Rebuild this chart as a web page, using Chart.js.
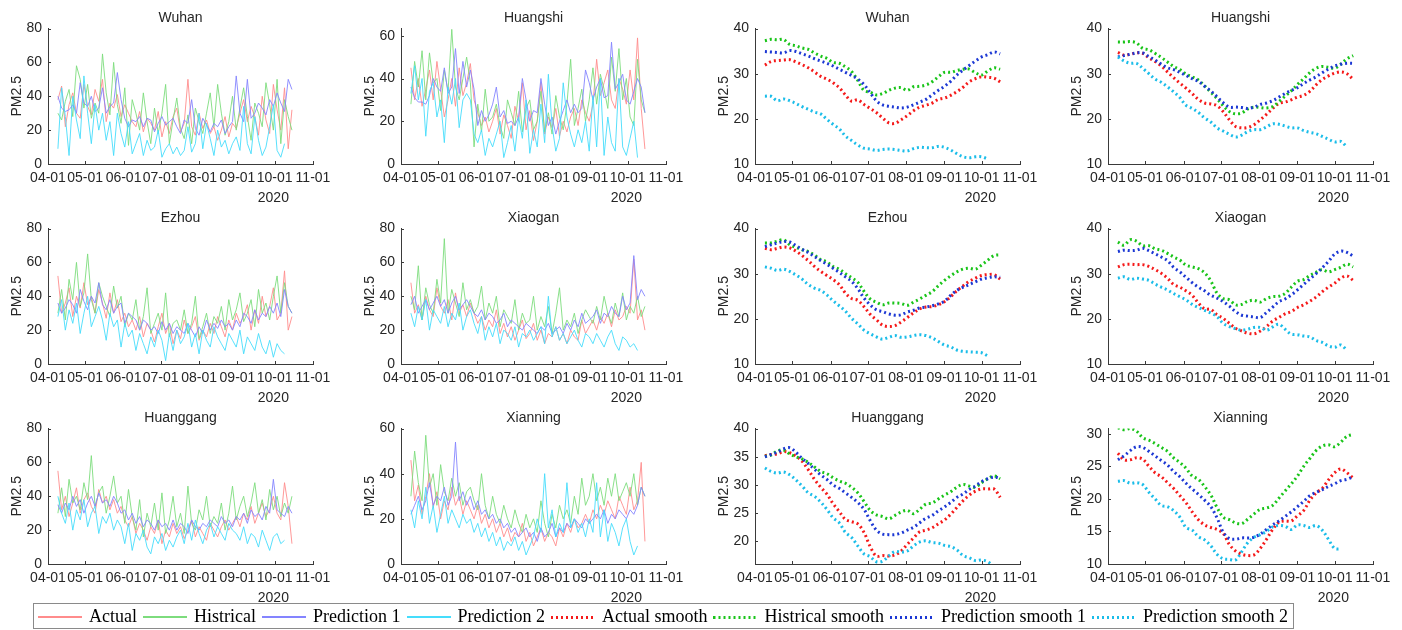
<!DOCTYPE html>
<html>
<head>
<meta charset="utf-8">
<script src="https://cdn.jsdelivr.net/npm/chart.js@4.4.1/dist/chart.umd.min.js"></script>
<style>
  body { margin: 0; background: #fff; width: 1402px; height: 630px; position: relative; overflow: hidden; }
  canvas { position: absolute; }
  #legendBox { position: absolute; left: 33px; top: 603px; width: 1261px; height: 26px; border: 1px solid #8a8a8a; box-sizing: border-box; }
</style>
</head>
<body>
<div id="legendBox"></div>
<script>
// x axis: days after 04-01 (2020)
const monthTicks = [0, 30, 61, 91, 122, 153, 183, 214];
const monthLabels = ["04-01", "05-01", "06-01", "07-01", "08-01", "09-01", "10-01", "11-01"];
const yearText = "2020";
const dailyStart = 8, dailyStep = 3;
const smoothStart = 8, smoothStep = 5;

const cities = ["Wuhan", "Huangshi", "Ezhou", "Xiaogan", "Huanggang", "Xianning"];
const seriesNames = ["Actual", "Histrical", "Prediction 1", "Prediction 2",
  "Actual smooth", "Histrical smooth", "Prediction smooth 1", "Prediction smooth 2"];

// ---- daily series (every 3rd day) ----
const wuhanActual = [38,46,22,35,42,30,27,47,34,29,44,37,50,25,36,33,
  41,28,35,30,25,22,31,19,27,24,20,31,16,25,18,28,
  33,19,24,50,22,17,30,21,26,18,22,14,20,28,16,24,
  21,30,38,25,34,28,17,40,26,18,47,32,20,45,9,32];
const wuhanHistrical = [30,26,37,44,28,58,50,33,47,27,36,30,65,42,29,60,
  35,24,45,11,38,30,20,42,25,12,33,18,30,47,12,26,
  39,21,15,29,12,33,25,18,30,42,22,47,30,17,25,40,
  20,33,45,28,14,36,30,22,48,35,20,50,12,38,28,20];
const wuhanPred1 = [40,33,31,32,35,30,48,36,34,40,31,33,45,30,34,36,
  54,38,27,22,26,25,28,22,27,26,19,24,28,23,25,27,
  22,18,26,24,38,21,17,27,23,19,24,22,26,18,22,25,
  52,30,25,50,27,30,36,33,29,38,34,42,36,31,50,44];
const wuhanPred2 = [9,45,28,5,40,26,15,52,30,12,35,20,30,14,25,5,
  30,18,10,25,6,12,18,5,14,8,10,20,4,9,12,6,
  10,5,8,22,7,12,30,9,24,15,5,20,10,14,6,12,
  16,8,34,12,6,28,14,5,10,22,35,8,4,12];

const huangshiActual = [45,30,40,27,35,44,30,48,35,22,30,40,27,45,32,38,
  47,30,24,18,22,15,20,26,14,23,18,12,27,20,38,16,
  25,11,20,38,14,22,17,26,13,20,15,22,26,18,30,24,
  20,28,49,32,38,44,30,26,40,35,28,44,30,59,26,7];
const huangshiHistrical = [28,48,36,53,30,52,38,40,25,44,34,63,36,30,40,50,
  38,8,28,15,35,20,22,28,18,12,30,24,18,34,15,26,
  30,16,20,34,15,24,14,32,22,16,28,49,18,26,35,20,
  30,45,28,42,35,26,50,34,54,30,40,22,18,49,30,24];
const huangshiPred1 = [36,31,29,29,28,32,40,36,34,45,33,36,54,33,48,36,
  44,35,18,25,20,23,28,36,22,25,19,20,18,22,40,30,
  20,25,24,40,28,18,22,14,20,25,30,24,28,24,26,44,
  38,30,36,40,31,32,57,35,38,42,30,28,34,40,36,24];
const huangshiPred2 = [33,46,30,40,13,34,38,22,30,10,36,28,40,17,30,33,
  30,14,10,16,4,12,8,14,20,3,10,18,6,22,12,30,
  5,16,8,28,10,42,18,6,12,38,22,14,8,16,10,20,
  6,32,8,40,4,22,10,6,40,8,4,12,20,3];

const ezhouActual = [52,30,36,45,28,40,33,48,35,40,30,44,36,27,42,30,
  38,25,30,22,26,20,28,16,24,20,13,22,30,18,24,12,
  20,15,26,18,22,28,14,20,16,24,18,28,22,16,26,20,
  30,24,28,35,20,32,24,40,28,34,45,26,30,55,20,28];
const ezhouHistrical = [30,44,26,50,38,60,34,42,65,38,30,48,40,34,28,46,
  33,40,22,30,26,38,20,28,45,18,24,30,20,42,16,24,
  26,20,32,18,24,40,15,22,30,18,28,24,34,20,38,26,
  32,42,25,30,38,22,44,30,36,26,40,52,30,48,34,30];
const ezhouPred1 = [36,30,33,38,35,30,44,37,32,40,36,48,35,32,38,30,
  34,36,24,30,28,26,20,26,24,20,22,18,25,20,24,18,
  22,20,18,24,20,16,22,18,26,20,24,21,26,22,24,20,
  26,22,30,28,24,32,26,30,28,34,30,36,28,44,34,30];
const ezhouPred2 = [28,38,20,32,24,36,18,30,40,22,28,34,26,14,30,22,
  26,10,24,16,20,8,18,12,6,16,10,20,14,2,18,8,
  20,12,16,24,10,18,6,20,14,10,22,16,12,8,18,14,
  10,20,6,16,12,8,18,10,6,14,4,12,8,6];

const xiaoganActual = [48,30,35,26,40,32,28,45,34,30,38,26,42,30,35,28,
  36,30,24,28,20,26,22,32,18,24,16,22,14,20,26,15,
  18,24,14,20,12,18,16,22,14,18,12,20,16,14,26,18,
  22,26,20,28,24,30,22,32,26,28,34,30,62,26,32,20];
const xiaoganHistrical = [40,32,58,26,45,35,30,50,36,74,30,44,36,28,48,32,
  38,30,34,46,26,36,30,40,22,32,28,24,38,20,30,24,
  26,40,20,28,22,34,18,30,45,20,26,22,30,18,26,32,
  28,24,34,26,40,30,24,36,28,42,26,34,30,40,28,34];
const xiaoganPred1 = [35,40,30,34,38,32,36,40,34,38,30,36,40,32,35,38,
  34,30,28,32,26,30,28,24,26,30,22,26,24,22,20,24,
  22,20,18,22,20,24,18,20,22,18,24,20,26,22,30,24,
  26,28,32,24,30,28,34,30,28,40,32,36,64,38,44,40];
const xiaoganPred2 = [30,22,34,26,38,20,32,28,24,34,22,30,26,36,20,28,
  32,24,18,28,14,22,16,24,12,20,18,14,22,10,18,16,
  20,14,18,22,12,40,16,22,14,18,12,16,20,14,10,18,
  16,12,18,14,10,16,20,12,8,16,14,10,12,8];

const huanggangActual = [55,32,40,28,36,45,30,38,42,34,30,44,36,40,32,38,
  30,34,26,22,28,18,24,20,14,22,18,26,12,20,16,24,
  18,22,15,20,26,16,22,18,14,24,20,16,22,26,20,24,
  28,22,30,26,34,24,30,36,28,32,40,30,26,48,34,12];
const huanggangHistrical = [30,45,28,50,36,40,32,48,38,64,34,42,46,30,40,52,
  36,40,24,44,28,20,38,16,30,22,36,20,42,18,26,40,
  22,30,18,46,24,20,32,26,40,22,28,24,36,20,30,46,
  26,34,40,28,36,48,30,38,26,44,32,40,28,36,30,40];
const huanggangPred1 = [35,30,36,32,40,34,38,30,36,40,34,42,36,38,34,40,
  36,30,32,26,30,24,28,22,26,24,20,26,22,24,20,26,
  20,24,22,18,26,22,20,24,22,26,24,22,28,24,26,22,
  28,26,30,24,32,28,30,26,34,30,50,32,30,28,34,30];
const huanggangPred2 = [40,30,24,36,20,32,26,38,22,30,34,18,28,24,30,20,
  26,22,12,24,8,18,14,20,10,6,16,12,18,8,14,10,
  16,20,12,24,14,26,18,12,20,24,16,22,18,14,24,20,
  18,14,22,12,18,16,10,20,14,8,16,18,12,14];

const xianningActual = [46,28,35,22,30,40,25,32,20,28,24,34,26,30,22,28,
  24,20,26,18,22,16,20,14,18,12,16,10,14,12,18,10,
  14,8,12,16,10,14,12,8,16,12,18,14,20,16,18,22,
  18,24,20,26,22,28,24,20,30,26,22,34,24,28,45,10];
const xianningHistrical = [30,50,36,28,57,34,40,26,44,32,28,38,30,36,26,32,
  34,28,24,40,26,20,30,22,18,26,20,16,24,18,14,22,
  16,20,14,28,18,12,22,16,26,20,24,18,30,22,38,26,
  30,40,28,34,26,38,30,40,28,32,36,30,40,26,34,30];
const xianningPred1 = [22,26,30,24,28,36,26,30,28,34,26,30,54,28,32,26,
  30,24,28,22,24,20,22,18,20,16,18,14,16,12,14,16,
  12,14,10,16,12,14,18,12,16,14,18,16,20,18,16,20,
  18,20,22,20,24,18,22,20,24,22,20,24,22,26,34,30];
const xianningPred2 = [24,16,28,20,34,18,26,14,22,30,18,24,20,16,22,18,
  20,14,18,12,16,10,14,8,12,6,10,8,12,6,10,4,
  8,12,20,14,40,16,24,12,18,14,36,16,20,14,18,12,
  20,14,36,12,24,10,18,14,8,16,20,10,4,8];

// ---- smoothed series (every 5th day) ----
const wuhanActualSmooth = [31.9,32.7,32.9,33.0,33.1,32.6,32.0,31.3,30.4,29.4,28.8,28.0,26.9,25.3,23.9,24.2,23.2,22.3,21.4,20.2,19.1,19.0,19.8,20.7,21.8,22.6,23.0,23.5,24.3,24.6,25.2,26.0,27.0,28.2,28.9,29.3,29.2,29.0,28.2];
const wuhanHistSmooth = [37.3,37.6,37.5,37.6,36.5,36.2,35.7,35.4,34.6,33.9,33.4,32.5,32.3,31.5,30.5,28.5,26.3,25.9,25.3,25.6,26.3,26.8,26.9,26.3,27.1,27.2,27.5,28.2,29.3,30.3,30.3,30.7,31.0,31.0,30.2,29.7,30.6,31.3,31.0];
const wuhanPred1Smooth = [34.9,34.8,34.7,34.6,35.1,34.9,34.4,33.9,33.3,32.8,32.3,31.7,31.0,30.3,29.6,28.8,27.6,25.8,24.0,23.1,22.8,22.6,22.4,22.6,23.1,23.7,24.3,25.3,26.3,27.2,28.3,29.7,30.8,31.8,32.8,33.7,34.2,34.8,34.4];
const wuhanPred2Smooth = [25.0,25.0,24.0,24.4,24.0,23.4,22.7,22.1,21.5,21.1,19.9,18.8,17.8,16.2,15.2,14.2,13.5,13.3,13.0,13.2,13.3,13.2,13.0,12.9,13.4,13.7,13.6,13.6,13.9,13.7,13.1,12.3,11.6,11.4,11.6,11.6,11.1];

const huangshiActualSmooth = [34.7,34.1,34.3,34.6,34.5,33.5,32.7,31.7,30.4,29.1,27.9,26.8,25.6,24.3,23.5,23.3,22.9,21.6,19.8,18.3,18.0,18.1,18.7,19.8,21.0,22.3,23.4,23.7,24.2,24.8,25.2,26.1,27.5,28.7,29.5,30.1,30.4,30.0,28.7];
const huangshiHistSmooth = [37.0,37.0,37.1,36.8,35.6,35.3,34.5,33.6,32.6,31.6,30.9,29.9,29.3,28.6,27.3,25.9,24.5,22.9,21.6,21.1,21.3,22.2,22.6,22.5,22.4,22.7,23.8,25.0,26.2,27.6,28.9,30.2,31.2,31.6,31.4,31.2,32.1,33.3,34.0];
const huangshiPred1Smooth = [33.7,34.0,34.3,34.6,34.6,33.8,33.0,32.1,31.3,30.9,30.3,29.6,28.9,28.3,27.2,26.2,24.9,23.6,22.6,22.6,22.5,22.3,22.6,23.2,23.5,24.0,24.8,25.6,26.3,26.9,27.8,28.6,29.3,30.2,31.0,31.7,32.1,32.3,32.3];
const huangshiPred2Smooth = [33.7,32.8,32.3,32.3,31.2,30.0,28.8,28.1,27.1,26.0,24.7,23.0,22.3,21.4,20.2,19.3,18.0,17.3,16.6,16.0,16.4,17.2,17.6,17.6,18.2,18.9,18.8,18.4,18.0,18.0,17.4,17.0,16.7,16.1,15.5,14.9,15.0,13.7];

const ezhouActualSmooth = [35.6,35.3,35.6,35.9,35.7,35.0,34.0,32.9,31.6,30.5,29.6,28.7,27.6,25.7,24.5,24.1,22.7,21.0,19.8,18.6,18.3,18.5,19.3,20.3,21.3,22.2,22.6,22.7,23.1,23.8,24.9,26.2,27.3,28.3,29.0,29.6,29.8,29.8,28.8];
const ezhouHistSmooth = [36.8,36.8,37.2,37.5,36.4,35.8,35.3,34.9,34.1,33.1,32.6,31.6,31.0,30.0,29.1,28.1,26.1,24.4,23.7,23.1,23.5,23.5,23.4,23.0,23.7,24.4,25.2,26.0,27.3,28.5,29.5,30.4,31.0,31.2,31.0,31.9,33.0,34.0,34.2];
const ezhouPred1Smooth = [36.0,36.4,36.8,37.1,37.0,36.2,35.4,34.7,33.8,32.9,32.1,31.2,30.3,29.3,28.3,26.7,24.6,23.1,22.0,21.6,21.1,20.8,20.9,21.5,21.9,22.4,22.6,22.9,23.3,23.9,25.2,26.3,27.0,27.6,28.2,28.8,29.1,29.3,29.2];
const ezhouPred2Smooth = [31.5,31.2,30.7,31.0,30.5,29.7,28.8,27.6,26.8,26.3,25.3,24.0,22.9,21.7,20.1,18.9,17.5,16.7,16.0,15.5,15.9,16.3,15.9,16.0,16.3,16.5,16.3,15.8,15.0,14.2,13.8,13.1,12.8,12.7,12.6,12.5,11.8];

const xiaoganActualSmooth = [31.5,32.0,32.1,32.0,32.0,31.6,30.9,30.1,29.0,27.6,27.0,26.2,25.2,23.5,22.2,22.1,20.9,20.1,19.0,17.9,17.3,16.8,16.7,17.3,18.3,19.5,20.3,21.1,21.6,22.5,23.1,23.9,24.8,26.0,27.0,27.9,29.0,29.5,28.5];
const xiaoganHistSmooth = [37.0,36.3,37.5,37.2,36.2,36.2,35.5,35.2,34.5,33.7,33.0,31.9,31.5,31.1,30.2,28.4,25.7,24.5,24.2,23.1,23.2,23.9,24.1,23.7,24.5,24.9,25.0,25.6,27.0,28.3,28.7,29.6,30.3,30.9,30.4,30.9,31.4,32.1,31.5];
const xiaoganPred1Smooth = [34.9,35.2,35.1,35.2,35.6,35.1,34.4,33.7,32.9,31.4,30.4,29.2,28.0,27.0,26.2,25.2,24.6,23.8,22.8,21.6,20.8,20.6,20.4,20.3,21.4,22.6,23.8,24.4,25.3,26.4,27.6,28.8,30.0,31.3,32.7,34.3,35.0,34.7,33.9];
const xiaoganPred2Smooth = [29.0,29.3,28.7,29.0,28.8,28.5,27.7,27.0,26.4,25.6,24.9,24.2,23.2,22.5,21.9,21.3,20.5,19.0,18.3,17.8,17.5,17.7,18.1,18.1,17.5,18.2,18.8,17.7,16.6,16.5,16.2,16.0,15.2,14.8,14.0,13.7,14.2,13.0];

const huanggangActualSmooth = [35.2,35.4,35.5,35.9,35.7,35.1,34.2,32.7,31.0,29.6,28.4,26.7,25.3,23.9,23.5,23.1,21.6,19.1,17.4,17.5,17.4,17.6,18.3,19.5,20.6,21.7,22.0,22.4,23.1,23.8,24.8,26.0,27.2,28.2,28.9,29.3,29.3,29.3,27.8];
const huanggangHistSmooth = [35.1,35.3,36.0,36.2,35.5,35.0,34.6,34.0,33.2,32.4,32.0,31.3,30.7,30.3,29.6,28.6,27.1,25.5,24.7,24.4,24.0,24.6,25.2,25.5,24.9,25.7,26.6,26.8,27.5,28.2,28.8,29.6,30.1,29.8,29.6,30.4,31.1,31.6,31.1];
const huanggangPred1Smooth = [35.0,35.4,35.8,36.4,36.6,35.8,34.7,33.8,32.8,31.8,31.0,30.0,29.4,28.6,27.8,26.9,25.7,23.7,22.0,21.3,21.2,21.2,21.5,22.0,22.5,23.3,24.1,24.6,25.4,26.1,26.9,27.8,28.4,29.2,29.8,30.6,31.1,31.4,31.2];
const huanggangPred2Smooth = [33.0,32.4,32.1,32.3,31.8,30.9,29.8,28.6,28.0,27.0,25.7,24.2,23.3,21.6,20.7,19.2,17.8,17.3,16.4,16.5,17.4,18.2,18.1,18.3,19.2,19.9,20.1,19.8,19.7,19.3,19.1,18.5,17.5,17.1,16.6,16.7,16.4,15.5];

const xianningActualSmooth = [27.0,26.0,26.0,26.3,26.1,25.0,24.0,23.4,22.5,21.6,20.5,19.4,18.0,16.8,16.0,15.6,15.3,14.7,13.0,12.0,11.5,11.3,11.4,12.4,13.8,15.3,16.4,16.6,16.6,17.4,18.2,19.8,20.9,21.6,22.9,24.0,24.6,24.0,23.2];
const xianningHistSmooth = [30.9,30.6,30.8,30.4,29.4,29.0,28.5,27.9,27.3,26.3,25.6,24.7,23.5,23.0,21.9,20.6,18.7,17.2,16.8,16.3,16.2,16.9,17.7,18.4,18.6,19.0,20.1,21.2,22.3,23.5,25.0,26.2,27.4,28.1,28.3,28.0,28.7,29.6,29.9];
const xianningPred1Smooth = [26.0,26.6,27.4,28.0,27.9,27.3,26.6,25.9,25.2,24.2,23.4,22.4,21.5,20.7,19.8,18.8,17.1,14.9,13.9,13.8,14.0,14.0,14.1,14.6,15.3,16.0,16.6,17.3,18.0,18.8,19.6,20.5,21.0,21.4,21.9,22.3,22.8,23.0,23.4];
const xianningPred2Smooth = [22.7,22.8,22.4,22.5,22.2,21.0,20.0,19.0,18.8,18.2,17.2,15.6,15.2,14.2,13.7,12.8,11.5,10.8,10.7,10.6,11.9,13.3,14.1,14.5,15.0,15.7,15.9,15.8,15.3,16.0,15.9,15.6,15.9,15.2,13.8,12.4,12.3];

// axis ranges per city
const dailyMax = [80, 63.4, 80, 80, 80, 60];
const dailyTicks = [[0,20,40,60,80], [0,20,40,60], [0,20,40,60,80], [0,20,40,60,80], [0,20,40,60,80], [0,20,40,60]];
const smoothMin = [10, 10, 10, 10, 16, 10];
const smoothMax = [40, 40, 40, 40, 40, 30.8];
const smoothTicks = [[10,20,30,40], [10,20,30,40], [10,20,30,40], [10,20,30,40], [20,25,30,35,40], [10,15,20,25,30]];

const dailyData = [
  [wuhanActual, wuhanHistrical, wuhanPred1, wuhanPred2],
  [huangshiActual, huangshiHistrical, huangshiPred1, huangshiPred2],
  [ezhouActual, ezhouHistrical, ezhouPred1, ezhouPred2],
  [xiaoganActual, xiaoganHistrical, xiaoganPred1, xiaoganPred2],
  [huanggangActual, huanggangHistrical, huanggangPred1, huanggangPred2],
  [xianningActual, xianningHistrical, xianningPred1, xianningPred2]
];
const smoothData = [
  [wuhanActualSmooth, wuhanHistSmooth, wuhanPred1Smooth, wuhanPred2Smooth],
  [huangshiActualSmooth, huangshiHistSmooth, huangshiPred1Smooth, huangshiPred2Smooth],
  [ezhouActualSmooth, ezhouHistSmooth, ezhouPred1Smooth, ezhouPred2Smooth],
  [xiaoganActualSmooth, xiaoganHistSmooth, xiaoganPred1Smooth, xiaoganPred2Smooth],
  [huanggangActualSmooth, huanggangHistSmooth, huanggangPred1Smooth, huanggangPred2Smooth],
  [xianningActualSmooth, xianningHistSmooth, xianningPred1Smooth, xianningPred2Smooth]
];

// styles
const thinColors = ["#ff8c8c", "#7ddc7d", "#8484ff", "#45ddfc"];
const boldColors = ["#f51a1a", "#19c419", "#1c38d4", "#1bbde9"];
const dotDash = [2, 3];
const sans = "'Liberation Sans', Arial, sans-serif";
const serif = "'Liberation Serif', 'Times New Roman', serif";
const textColor = "#262626";
const axisColor = "#3a3a3a";

const colLeft = [48, 401, 755, 1108];
const rowTop = [28.5, 228.5, 428.5];
const yAxisW = 48, titleH = 28.5, xAxisH = 42, plotW = 265, plotH = 135.5;

// ticks pointing into the plot, like the original
const innerTicks = {
  id: "innerTicks",
  afterDraw(chart) {
    const { ctx, chartArea: a, scales: { x, y } } = chart;
    ctx.save();
    ctx.strokeStyle = axisColor;
    ctx.lineWidth = 1;
    ctx.beginPath();
    x.ticks.forEach(t => {
      const px = Math.round(x.getPixelForValue(t.value)) + 0.5;
      ctx.moveTo(px, a.bottom); ctx.lineTo(px, a.bottom - 3);
    });
    y.ticks.forEach(t => {
      const py = Math.round(y.getPixelForValue(t.value)) + 0.5;
      ctx.moveTo(a.left, py); ctx.lineTo(a.left + 3, py);
    });
    ctx.stroke();
    ctx.restore();
  }
};

// secondary "2020" label under the date ticks
const yearLabel = {
  id: "yearLabel",
  afterDraw(chart) {
    const { ctx, chartArea: a, scales: { x } } = chart;
    ctx.save();
    ctx.font = "14px " + sans;
    ctx.fillStyle = textColor;
    ctx.textAlign = "center";
    ctx.textBaseline = "middle";
    ctx.fillText(yearText, x.getPixelForValue(182), a.bottom + 34);
    ctx.restore();
  }
};

function points(values, start, step) {
  return values.map((v, i) => ({ x: start + i * step, y: v }));
}

function makePanel(col, row, title, datasets, yMin, yMax, yTicks) {
  const canvas = document.createElement("canvas");
  const w = yAxisW + plotW + yAxisW, h = titleH + plotH + xAxisH;
  canvas.width = w; canvas.height = h;
  canvas.style.left = (colLeft[col] - yAxisW) + "px";
  canvas.style.top = (rowTop[row] - titleH) + "px";
  canvas.style.width = w + "px"; canvas.style.height = h + "px";
  document.body.appendChild(canvas);

  const tickFont = { family: sans, size: 14 };
  return new Chart(canvas, {
    type: "line",
    data: { datasets },
    options: {
      responsive: false,
      animation: false,
      devicePixelRatio: 1,
      layout: { padding: 0 },
      plugins: {
        legend: { display: false },
        tooltip: { enabled: false },
        title: {
          display: true, text: title, color: textColor,
          font: { family: sans, size: 14, weight: "normal" },
          padding: { top: 9.6, bottom: 2.1 }
        }
      },
      scales: {
        x: {
          type: "linear", min: 0, max: 214,
          grid: { display: false, drawTicks: false },
          border: { display: true, color: axisColor, width: 1 },
          afterBuildTicks: s => { s.ticks = monthTicks.map(v => ({ value: v })); },
          afterFit: s => { s.height = xAxisH; },
          ticks: {
            color: textColor, font: tickFont, padding: 6,
            maxRotation: 0, minRotation: 0, autoSkip: false,
            callback: (v, i) => monthLabels[i]
          }
        },
        y: {
          type: "linear", position: "left", min: yMin, max: yMax,
          grid: { display: false, drawTicks: false },
          border: { display: true, color: axisColor, width: 1 },
          afterBuildTicks: s => { s.ticks = yTicks.map(v => ({ value: v })); },
          afterFit: s => { s.width = yAxisW; },
          ticks: { color: textColor, font: tickFont, padding: 6 },
          title: {
            display: true, text: "PM2.5", color: textColor,
            font: { family: sans, size: 14 }, padding: { top: 8.6, bottom: 0 }
          }
        },
        // empty right-hand spacer so the title centres over the axes
        yPad: {
          type: "linear", position: "right", display: true,
          grid: { display: false, drawTicks: false },
          border: { display: false },
          ticks: { display: false },
          afterFit: s => { s.width = yAxisW; }
        }
      }
    },
    plugins: [innerTicks, yearLabel]
  });
}

cities.forEach((city, k) => {
  const row = Math.floor(k / 2), c = k % 2;

  const daily = dailyData[k].map((vals, i) => ({
    label: seriesNames[i],
    data: points(vals, dailyStart, dailyStep),
    borderColor: thinColors[i],
    borderWidth: 0.9,
    pointRadius: 0,
    tension: 0,
    order: 4 - i
  }));
  makePanel(c, row, city, daily, 0, dailyMax[k], dailyTicks[k]);

  const smooth = smoothData[k].map((vals, i) => ({
    label: seriesNames[i + 4],
    data: points(vals, smoothStart, smoothStep),
    borderColor: boldColors[i],
    borderWidth: 3,
    borderDash: dotDash,
    pointRadius: 0,
    tension: 0.35,
    order: 4 - i
  }));
  makePanel(c + 2, row, city, smooth, smoothMin[k], smoothMax[k], smoothTicks[k]);
});

// legend line samples (solid for daily, dotted for smooth), pixel-aligned
function lineSample(color, dotted) {
  const s = document.createElement("canvas");
  s.width = 44; s.height = 4;
  const g = s.getContext("2d");
  g.fillStyle = color;
  if (dotted) {
    for (let x = 0; x + 2 <= 44; x += 5) g.fillRect(x, 1, 2, 3);
  } else {
    g.fillRect(0, 1, 44, 2);
  }
  return s;
}
const legendSamples = seriesNames.map((n, i) =>
  i < 4 ? lineSample(thinColors[i], false) : lineSample(boldColors[i - 4], true));

// shared legend along the bottom
const legendCanvas = document.createElement("canvas");
legendCanvas.width = 1320; legendCanvas.height = 60;
legendCanvas.style.left = "4px"; legendCanvas.style.top = "600px";
legendCanvas.style.width = "1320px"; legendCanvas.style.height = "60px";
document.body.appendChild(legendCanvas);

new Chart(legendCanvas, {
  type: "line",
  data: {
    datasets: seriesNames.map((name, i) => ({
      label: name,
      data: [],
      borderColor: i < 4 ? thinColors[i] : boldColors[i - 4],
      borderWidth: i < 4 ? 1 : 3
    }))
  },
  options: {
    responsive: false,
    animation: false,
    devicePixelRatio: 1,
    layout: { padding: 0 },
    scales: { x: { display: false }, y: { display: false } },
    plugins: {
      tooltip: { enabled: false },
      legend: {
        position: "top",
        labels: {
          usePointStyle: true, pointStyleWidth: 40,
          padding: 8, color: "#000",
          font: { family: serif, size: 18 },
          generateLabels: chart => Chart.defaults.plugins.legend.labels.generateLabels(chart)
            .map((item, i) => Object.assign(item, { pointStyle: legendSamples[i] }))
        }
      }
    }
  }
});
</script>
</body>
</html>
